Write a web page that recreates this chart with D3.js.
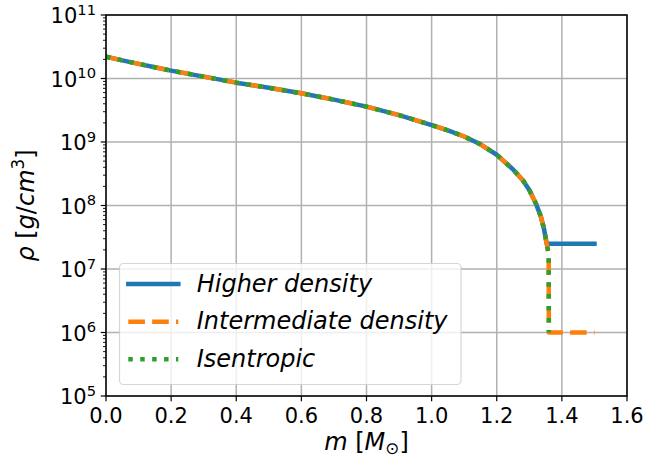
<!DOCTYPE html>
<html>
<head>
<meta charset="utf-8">
<script src="https://cdn.jsdelivr.net/npm/d3@7"></script>
<style>
  html, body { margin: 0; padding: 0; background: #fff; }
  svg { display: block; font-family: "DejaVu Sans", sans-serif; }
</style>
</head>
<body>
<svg id="chart" width="664" height="460"></svg>
<script>
// ---------- data ----------
const massCore = [0, 0.05, 0.1, 0.15, 0.2, 0.3, 0.4, 0.5, 0.6, 0.7, 0.8, 0.9, 1.0, 1.05, 1.1, 1.15, 1.2, 1.25, 1.28, 1.3, 1.32, 1.335, 1.345, 1.3535];
const rhoCore  = [2.2e10, 1.93e10, 1.7e10, 1.5e10, 1.33e10, 1.07e10, 8.6e9, 7.15e9, 5.85e9, 4.65e9, 3.6e9, 2.65e9, 1.85e9, 1.52e9, 1.22e9, 9.2e8, 6.3e8, 3.7e8, 2.5e8, 1.75e8, 1.08e8, 6.8e7, 4.3e7, 2.5e7];

const massHigherTail = [1.3535, 1.5];
const rhoHigherTail  = [2.5e7, 2.5e7];

const massInterTail = [1.3595, 1.36, 1.5];
const rhoInterTail  = [1.7e7, 1.0e6, 1.0e6];

const massIsenTail = [1.3595, 1.36];
const rhoIsenTail  = [1.7e7, 1.0e6];

const seriesNames = ["Higher density", "Intermediate density", "Isentropic"];
const xTicks = [0, 0.2, 0.4, 0.6, 0.8, 1.0, 1.2, 1.4, 1.6];
const yTickExps = [5, 6, 7, 8, 9, 10, 11];

// ---------- layout ----------
const svg = d3.select("#chart");
const L = 106, R = 627, T = 15, B = 396;
const x = d3.scaleLinear().domain([0, 1.6]).range([L, R]);
const y = d3.scaleLog().domain([1e5, 1e11]).range([B, T]);

const LW = 4.5;
const colors = ["#1f77b4", "#ff7f0e", "#2ca02c"];
const dashes = [null, `${3.7*LW},${1.6*LW}`, `${1*LW},${1.65*LW}`];
const caps = ["square", "butt", "butt"];

svg.append("defs").append("clipPath").attr("id", "clip")
  .append("rect").attr("x", L).attr("y", T).attr("width", R - L).attr("height", B - T);

// grid
const grid = svg.append("g");
xTicks.forEach(t => {
  grid.append("line").attr("x1", x(t)).attr("x2", x(t)).attr("y1", T).attr("y2", B)
    .attr("stroke", "#b0b0b0").attr("stroke-width", 1.5);
});
yTickExps.forEach(e => {
  grid.append("line").attr("x1", L).attr("x2", R).attr("y1", y(Math.pow(10, e))).attr("y2", y(Math.pow(10, e)))
    .attr("stroke", "#b0b0b0").attr("stroke-width", 1.5);
});

// series
function zip(ms, rs) { return ms.map((m, i) => [m, rs[i]]); }
const data = [
  zip(massCore.concat(massHigherTail.slice(1)), rhoCore.concat(rhoHigherTail.slice(1))),
  zip(massCore.concat(massInterTail), rhoCore.concat(rhoInterTail)),
  zip(massCore.concat(massIsenTail), rhoCore.concat(rhoIsenTail))
];
const line = d3.line().x(d => x(d[0])).y(d => y(d[1]));
const plot = svg.append("g").attr("clip-path", "url(#clip)");
data.forEach((d, i) => {
  plot.append("path").attr("d", line(d)).attr("fill", "none")
    .attr("stroke", colors[i]).attr("stroke-width", LW)
    .attr("stroke-linecap", caps[i]).attr("stroke-linejoin", "round")
    .attr("stroke-dasharray", dashes[i]);
});

// axes ticks
const axes = svg.append("g");
xTicks.forEach(t => {
  axes.append("line").attr("x1", x(t)).attr("x2", x(t)).attr("y1", B).attr("y2", B + 5.25)
    .attr("stroke", "#000").attr("stroke-width", 1.2);
  axes.append("text").attr("x", x(t)).attr("y", 423).attr("text-anchor", "middle")
    .attr("font-size", 21).text(t.toFixed(1));
});
yTickExps.forEach(e => {
  const yy = y(Math.pow(10, e));
  axes.append("line").attr("x1", L - 5.25).attr("x2", L).attr("y1", yy).attr("y2", yy)
    .attr("stroke", "#000").attr("stroke-width", 1.2);
  const tx = axes.append("text").attr("x", 96).attr("y", yy + 8).attr("text-anchor", "end").attr("font-size", 21);
  tx.append("tspan").text("10");
  tx.append("tspan").attr("font-size", 14.7).attr("dy", -8.3).text(String(e));
  if (e < 11) {
    for (let k = 2; k <= 9; k++) {
      const ym = y(k * Math.pow(10, e));
      axes.append("line").attr("x1", L - 3).attr("x2", L).attr("y1", ym).attr("y2", ym)
        .attr("stroke", "#000").attr("stroke-width", 0.9);
    }
  }
});

// spines
svg.append("rect").attr("x", L).attr("y", T).attr("width", R - L).attr("height", B - T)
  .attr("fill", "none").attr("stroke", "#000").attr("stroke-width", 1.5);

// axis labels
const xl = svg.append("text").attr("x", 366.5).attr("y", 450).attr("text-anchor", "middle").attr("font-size", 24);
xl.append("tspan").attr("font-style", "italic").text("m");
xl.append("tspan").text(" [");
xl.append("tspan").attr("font-style", "italic").text("M");
xl.append("tspan").attr("font-size", 16.8).attr("dy", 4).text("⊙");
xl.append("tspan").attr("dy", -4).text("]");

const yl = svg.append("text").attr("transform", "translate(33.5,205.5) rotate(-90)")
  .attr("text-anchor", "middle").attr("font-size", 24);
yl.append("tspan").attr("font-style", "italic").text("ρ");
yl.append("tspan").text(" [");
yl.append("tspan").attr("font-style", "italic").text("g");
yl.append("tspan").text("/");
yl.append("tspan").attr("font-style", "italic").text("cm");
yl.append("tspan").attr("font-size", 16.8).attr("dy", -10).text("3");
yl.append("tspan").attr("dy", 10).text("]");

// legend
const lg = svg.append("g");
lg.append("rect").attr("x", 119.5).attr("y", 263.5).attr("width", 341.5).attr("height", 121)
  .attr("rx", 4).attr("fill", "#fff").attr("fill-opacity", 0.8)
  .attr("stroke", "#cccccc").attr("stroke-opacity", 0.8).attr("stroke-width", 1.2);
const rows = [284, 321.7, 359.3];
seriesNames.forEach((name, i) => {
  lg.append("line").attr("x1", 128.3).attr("x2", 178.3).attr("y1", rows[i]).attr("y2", rows[i])
    .attr("stroke", colors[i]).attr("stroke-width", LW)
    .attr("stroke-linecap", caps[i]).attr("stroke-dasharray", dashes[i]);
  lg.append("text").attr("x", 196.7).attr("y", rows[i] + 7.5).attr("font-size", 24)
    .attr("font-style", "italic").text(name);
});
</script>
</body>
</html>
